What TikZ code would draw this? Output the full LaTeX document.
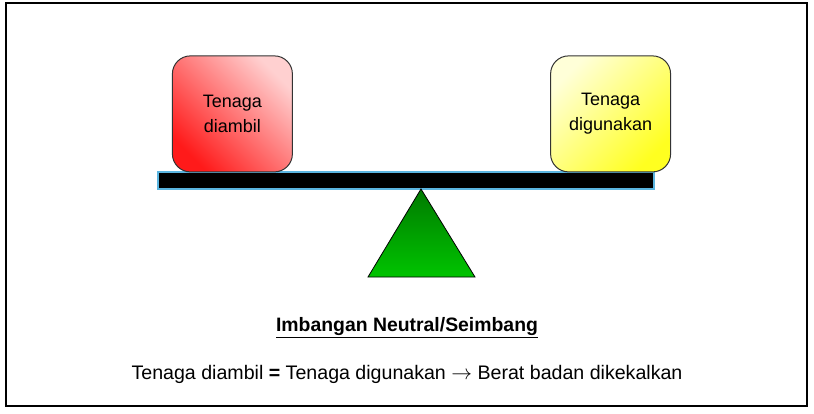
\documentclass[tikz,border=0pt]{standalone}
\usepackage{fontspec}
\setmainfont{Liberation Sans}
\usetikzlibrary{positioning}
\definecolor{beamedge}{HTML}{5BB5E0}
\definecolor{redfull}{HTML}{FF1A1A}
\definecolor{redpale}{HTML}{FFD0D0}
\definecolor{yellowfull}{HTML}{FFFF20}
\definecolor{yellowpale}{HTML}{FFFFD8}
\definecolor{greentop}{HTML}{007A00}
\definecolor{greenbottom}{HTML}{00C400}
\tikzstyle{energybox}=[draw=black!80, line width=1pt, rounded corners=18pt, inner sep=0,
                       minimum width=120pt, minimum height=116pt, align=center,
                       font=\fontsize{18}{25}\selectfont]
\tikzstyle{takenbox}=[energybox, top color=redpale, bottom color=redfull, shading angle=-45]
\tikzstyle{usedbox}=[energybox, top color=yellowpale, bottom color=yellowfull, shading angle=45]
\tikzstyle{beambar}=[draw=beamedge, fill=black, line width=1.2pt, inner sep=0,
                     minimum width=496pt, minimum height=17pt]
\tikzstyle{fulcrum}=[draw=black, line width=0.8pt, top color=greentop, bottom color=greenbottom]
\tikzstyle{caption}=[inner sep=0, font=\fontsize{19.6}{22}\selectfont]
\begin{document}
\begin{tikzpicture}[x=1pt, y=-1pt]
        \useasboundingbox (0,0) rectangle (814,413);
        \draw[line width=2pt] (6,3) rectangle (807,406);
        % see-saw
        \node[beambar] (beam) at (406,180.5) {};
        \node[takenbox, above=0pt of beam.north west, xshift=75pt, yshift=-1pt, anchor=south] (taken) {Tenaga\\diambil};
        \node[usedbox, above=0pt of beam.north east, xshift=-44pt, yshift=-1pt, anchor=south] (used) {Tenaga\\digunakan};
        \coordinate (pivot) at (421,189);
        \path[fulcrum] (pivot) -- ++(-53,88) -- ++(107,0) -- cycle;
        % captions
        \node[caption, font=\fontsize{19.4}{22}\selectfont\bfseries] (title) at (407,328) {\underline{Imbangan Neutral/Seimbang}};
        \node[caption] (balance) at (407,374) {Tenaga diambil \textbf{=} Tenaga digunakan $\rightarrow$ Berat badan dikekalkan};
    \end{tikzpicture}
\end{document}
